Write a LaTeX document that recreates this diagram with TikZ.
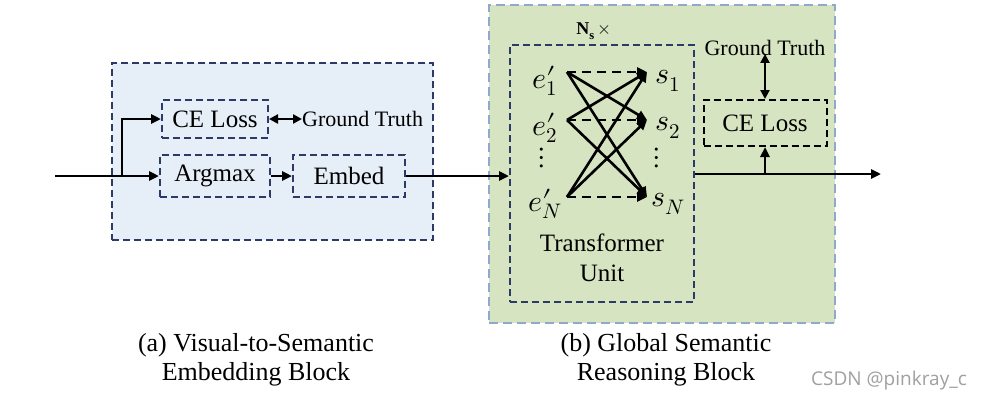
\documentclass[tikz,border=0pt]{standalone}
\usepackage{fontspec}
\usepackage{unicode-math}
\setmainfont{Liberation Serif}
\setmathfont{Latin Modern Math}
\newfontfamily\wmfont{Open Sans}
\usetikzlibrary{arrows.meta}
\definecolor{navy}{HTML}{2B3A67}
\definecolor{bluefill}{HTML}{E6EEF8}
\definecolor{greenfill}{HTML}{D7E4C2}
\definecolor{greenedge}{HTML}{8FA9CC}
\definecolor{wmgray}{HTML}{A0A0A0}
\newcommand{\ep}[1]{e\rlap{$\prime$}_{#1}}
\begin{document}
\begin{tikzpicture}[x=1pt,y=-1pt,
  dashbox/.style={draw=navy, line width=2pt, dash pattern=on 7pt off 4pt, inner sep=0pt},
  blockA/.style={dashbox, fill=bluefill, minimum width=321pt, minimum height=177pt},
  blockB/.style={draw=greenedge, line width=2pt, dash pattern=on 9pt off 5pt, fill=greenfill, minimum width=346pt, minimum height=318pt},
  unitbox/.style={dashbox, minimum width=184pt, minimum height=257pt},
  opbox/.style={dashbox, font=\fontsize{25}{28}\selectfont},
  lossbox/.style={draw=black, line width=2pt, dash pattern=on 7pt off 4pt, font=\fontsize{25}{28}\selectfont, minimum width=123pt, minimum height=46pt},
  lbl/.style={font=\fontsize{22}{26}\selectfont, inner sep=0pt},
  captxt/.style={font=\fontsize{26}{29}\selectfont, align=center, inner sep=0pt},
  mth/.style={font=\fontsize{30}{32}\selectfont, inner sep=0pt},
  wire/.style={line width=2.8pt, -{Triangle[length=10pt,width=9pt]}},
  dwire/.style={line width=2.8pt, {Triangle[length=9pt,width=9pt]}-{Triangle[length=9pt,width=9pt]}},
  att/.style={line width=2.6pt, -{Triangle[length=10pt,width=9pt]}},
  datt/.style={att, dash pattern=on 9pt off 6pt}
]
\useasboundingbox (0,0) rectangle (982,402);
\fill[white] (0,0) rectangle (982,402);

% blocks
\node[blockA] (blkA) at (272.5,151.5) {};
\node[blockB] (blkB) at (662,164) {};
\node[unitbox] (unit) at (602,173.5) {};

% left block contents
\node[opbox, minimum width=106pt, minimum height=38pt] (ce1) at (215,119) {CE Loss};
\node[opbox, minimum width=110pt, minimum height=42pt] (argmax) at (215,176) {Argmax};
\node[opbox, minimum width=112pt, minimum height=42pt] (embed) at (349,176) {Embed};
\node[lbl, anchor=west] (gt1) at (302,119) {Ground Truth};

\coordinate (in) at (55,176);
\coordinate (branch) at (122,176);
\draw[wire] (in) -- (argmax.west);
\draw[wire] (branch) |- (ce1.west);
\draw[dwire] (ce1.east) -- (gt1.west);
\draw[wire] (argmax.east) -- (embed.west);
\draw[wire] (embed.east) -- (unit.west |- embed.east);

% N_s label
\node[font=\fontsize{18}{20}\selectfont, inner sep=0pt] (ns) at (594,31) {\textbf{N}$_{\mathbf{s}}$\,$\times$};

% transformer unit contents
\node[mth] (e1) at (545,81) {$\ep{1}$};
\node[mth] (e2) at (545,128) {$\ep{2}$};
\node[mth] (ed) at (542,158) {$\vdots$};
\node[mth] (eN) at (545,204) {$\ep{N}$};
\node[mth] (s1) at (668,81) {$s_1$};
\node[mth] (s2) at (668,128) {$s_2$};
\node[mth] (sd) at (657,158) {$\vdots$};
\node[mth] (sN) at (668,204) {$s_N$};

\coordinate (a1) at (567,72);
\coordinate (a2) at (567,120);
\coordinate (aN) at (567,197);
\coordinate (b1) at (647,72);
\coordinate (b2) at (647,120);
\coordinate (bN) at (647,197);
\draw[datt] (a1) -- (b1);
\draw[datt] (a2) -- (b2);
\draw[datt] (aN) -- (bN);
\draw[att] (a1) -- (b2);
\draw[att] (a1) -- (bN);
\draw[att] (a2) -- (b1);
\draw[att] (a2) -- (bN);
\draw[att] (aN) -- (b1);
\draw[att] (aN) -- (b2);

\node[captxt, font=\fontsize{25}{30}\selectfont] (tu) at (602,258) {Transformer\\Unit};

% right block output
\node[lossbox] (ce2) at (765,123) {CE Loss};
\node[lbl] (gt2) at (765,48) {Ground Truth};
\coordinate (out) at (881,174);
\coordinate (tap) at (ce2.south |- out);
\draw[wire] (unit.east |- out) -- (out);
\draw[wire] (tap) -- (ce2.south);
\draw[dwire] (ce2.north) -- ([yshift=2pt]gt2.south);

% captions
\node[captxt] (capA) at (256,360) {(a) Visual-to-Semantic\\Embedding Block};
\node[captxt] (capB) at (666,360) {(b) Global Semantic\\Reasoning Block};

% watermark
\node[font=\wmfont\fontsize{19}{21}\selectfont, text=wmgray, inner sep=0pt] (wm) at (889,381) {CSDN @pinkray\_c};
\end{tikzpicture}
\end{document}
